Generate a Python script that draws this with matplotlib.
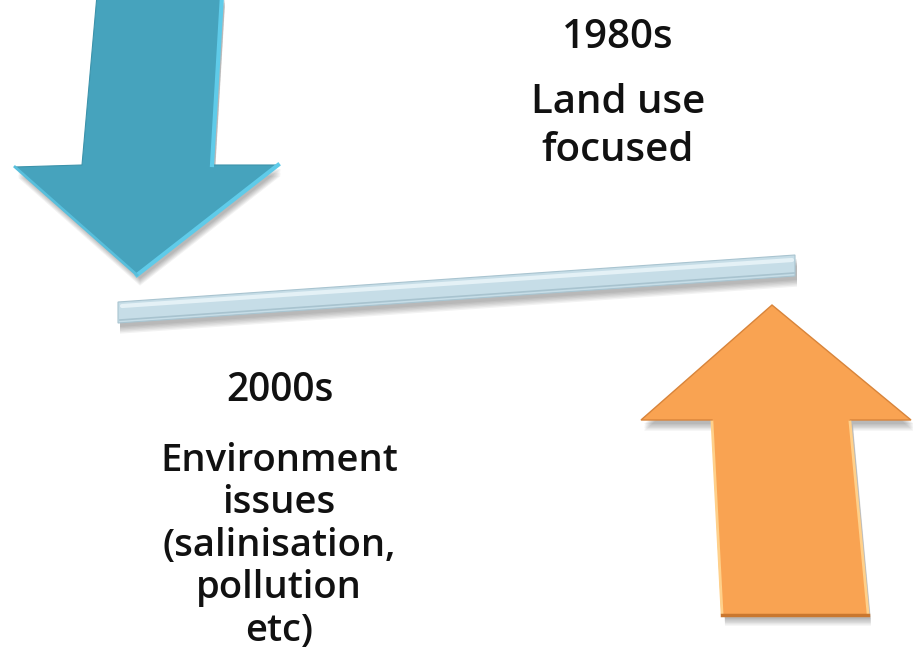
import matplotlib.pyplot as plt
from matplotlib.patches import Polygon

plt.rcParams['font.family'] = ['Open Sans', 'DejaVu Sans']

# text blocks
top_labels = ["1980s", "Land use", "focused"]
top_baselines = [48, 113, 161]
bottom_labels = ["2000s", "Environment", "issues", "(salinisation,", "pollution", "etc)"]
bottom_baselines = [401, 471, 513, 556, 598, 641]

# shapes (pixel space of the slide)
blue_arrow = [(97, -5), (222, -5), (212, 165), (278, 165), (137, 275), (15, 167), (82, 165)]
orange_arrow = [(772, 305), (911, 420), (850, 420), (868, 615), (722, 615), (712, 420), (641, 420)]
bar = [(118, 302), (795, 255), (795, 276), (118, 323)]

BLUE = "#46a3bd"
ORANGE = "#f9a352"
BAR = "#c6dde7"

fig = plt.figure(figsize=(9.13, 6.53), dpi=100)
ax = fig.add_axes([0, 0, 1, 1])
ax.set_xlim(0, 913)
ax.set_ylim(653, 0)
ax.axis("off")


def shadow(pts, dx, dy, spread):
    # soft grey drop shadow from a few stacked, offset copies
    for i in range(6):
        off = [(x + dx, y + dy + i * spread / 6) for x, y in pts]
        ax.add_patch(Polygon(off, closed=True, facecolor="#000000", alpha=0.05,
                             edgecolor="none", zorder=1))


shadow(bar, 2, 4, 8)
ax.add_patch(Polygon(bar, closed=True, facecolor=BAR, edgecolor="#a9c4d0", lw=0.8, zorder=2))
ax.plot([122, 792], [306, 260], color="#e4f1f6", lw=3, solid_capstyle="round", zorder=3)
ax.plot([120, 794], [320, 273], color="#a8c3cf", lw=1.2, zorder=3)

shadow(blue_arrow, 3, 4, 8)
ax.add_patch(Polygon(blue_arrow, closed=True, facecolor=BLUE, edgecolor="#3c93ab", lw=0.8, zorder=4))
ax.plot([222, 212], [-5, 165], color="#5fcbe9", lw=3, zorder=5)
ax.plot([278, 137], [165, 275], color="#5fcbe9", lw=3, zorder=5)
ax.plot([15, 137], [167, 275], color="#58bfdc", lw=2, zorder=5)

shadow(orange_arrow, 3, 4, 8)
ax.add_patch(Polygon(orange_arrow, closed=True, facecolor=ORANGE, edgecolor="#d8843a", lw=1, zorder=4))
ax.plot([712, 722], [422, 613], color="#ffd08a", lw=2, zorder=5)
ax.plot([850, 868], [422, 613], color="#ffd08a", lw=2, zorder=5)
ax.plot([722, 868], [615, 615], color="#c9772f", lw=2.5, zorder=5)

for label, y in zip(top_labels, top_baselines):
    ax.text(618, y, label, ha="center", va="baseline", fontsize=29,
            fontweight="semibold", color="#111111", zorder=6)

for i, (label, y) in enumerate(zip(bottom_labels, bottom_baselines)):
    ax.text(279 if i else 280, y, label, ha="center", va="baseline",
            fontsize=28 if i == 0 else 27.5, fontweight="semibold",
            color="#111111", zorder=6)

plt.savefig("out.png", dpi=100)
plt.close()
